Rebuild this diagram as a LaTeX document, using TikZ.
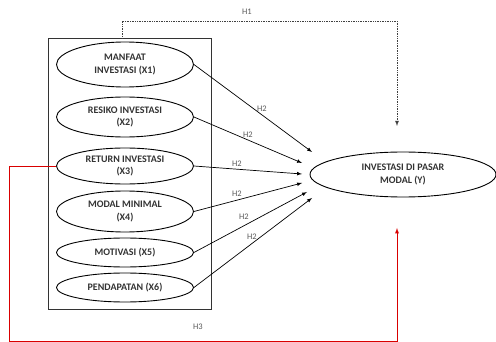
\documentclass[tikz,border=0pt]{standalone}
\usepackage{fontspec}
\setmainfont{Carlito}
\usetikzlibrary{shapes,arrows,positioning}

\tikzset{
  var/.style={ellipse, draw, line width=0.9pt, inner sep=0pt, minimum width=137pt,
    align=center, font=\bfseries\fontsize{10}{12.5}\selectfont, text=black!80},
  hyp/.style={font=\fontsize{8.5}{10}\selectfont, text=black!65},
  link/.style={-latex, line width=0.7pt},
}

\begin{document}
\begin{tikzpicture}[x=1pt,y=-1pt]
 \useasboundingbox (0,0) rectangle (496,342);
% nodes
 \node[draw, line width=1pt, black!80, minimum width=163pt, minimum height=270pt, inner sep=0pt] (grp) at (129.5,174) {};
 \node[var, minimum height=45pt] (x1) at (125,64.5) {MANFAAT\\INVESTASI (X1)};
 \node[var, minimum height=40pt] (x2) at (125,117) {RESIKO INVESTASI\\(X2)};
 \node[var, minimum height=36pt] (x3) at (125,166) {RETURN INVESTASI\\(X3)};
 \node[var, minimum height=41pt] (x4) at (125,211.5) {MODAL MINIMAL\\(X4)};
 \node[var, minimum height=29pt] (x5) at (125,252.5) {MOTIVASI (X5)};
 \node[var, minimum height=29pt] (x6) at (125,287.5) {PENDAPATAN (X6)};
 \node[var, minimum width=186pt, minimum height=45pt] (y) at (403,174.5) {INVESTASI DI PASAR\\MODAL (Y)};

 \coordinate (t1) at (312,152);
 \coordinate (t2) at (302,163);
 \coordinate (t3) at (302,174);
 \coordinate (t4) at (302,183);
 \coordinate (t5) at (307,192);
 \coordinate (t6) at (312,198);

% edges
 \draw[link] (x1.east) -- (t1);
 \draw[link] (x2.east) -- (t2);
 \draw[link] (x3.east) -- (t3);
 \draw[link] (x4.east) -- (t4);
 \draw[link] (x5.east) -- (t5);
 \draw[link] (x6.east) -- (t6);

 \node[hyp] (h21) at (262,109) {H2};
 \node[hyp] (h22) at (248,135) {H2};
 \node[hyp] (h23) at (237,164) {H2};
 \node[hyp] (h24) at (237,194) {H2};
 \node[hyp] (h25) at (244,217) {H2};
 \node[hyp] (h26) at (252,237) {H2};

 % H1
 \coordinate (h1end) at (397,126);
 \draw[link, densely dotted, line width=0.8pt, black!75] (grp.north -| 122,0) -- (122,21) -- (397,21) -- (h1end);
 \node[hyp] (h1) at (247,12) {H1};

 % H3
 \coordinate (h3end) at (397,228);
 \draw[link, red!85!black, line width=0.9pt] (x3.west) -- (9,166) -- (9,341) -- (397,341) -- (h3end);
 \node[hyp] (h3) at (198,327) {H3};
\end{tikzpicture}
\end{document}
